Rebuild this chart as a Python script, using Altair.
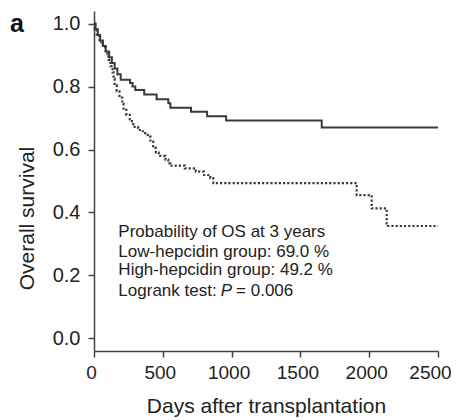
import altair as alt
import pandas as pd

# Low-hepcidin group (solid)
low_days = [0, 12, 28, 45, 65, 85, 110, 130, 150, 170, 194, 262, 280, 300, 365, 455,
            540, 555, 705, 822, 960, 1655, 2500]
low_surv = [1.0, 0.982, 0.964, 0.946, 0.929, 0.911, 0.893, 0.875, 0.857, 0.839, 0.822,
            0.811, 0.800, 0.789, 0.775, 0.760, 0.747, 0.733, 0.720, 0.706, 0.692, 0.670, 0.670]

# High-hepcidin group (dotted)
high_days = [0, 5, 20, 40, 65, 85, 105, 120, 135, 142, 150, 165, 185, 205, 215, 235, 260,
             285, 320, 355, 390, 410, 430, 450, 470, 520, 540, 555, 660, 740, 800, 845,
             867, 1909, 2018, 2127, 2500]
high_surv = [1.0, 0.98, 0.96, 0.94, 0.925, 0.905, 0.885, 0.865, 0.845, 0.825, 0.805, 0.785,
             0.765, 0.745, 0.73, 0.71, 0.69, 0.672, 0.662, 0.652, 0.641, 0.625, 0.605, 0.59,
             0.58, 0.568, 0.556, 0.549, 0.540, 0.530, 0.519, 0.509, 0.493, 0.455, 0.413,
             0.357, 0.357]

x_ticks = [0, 500, 1000, 1500, 2000, 2500]
y_ticks = [0.0, 0.2, 0.4, 0.6, 0.8, 1.0]

note_lines = ["Probability of OS at 3 years", "Low-hepcidin group: 69.0 %",
              "High-hepcidin group: 49.2 %", "Logrank test:"]
note_y = [0.322, 0.260, 0.200, 0.136]
note_x = 177

FONT = "Liberation Sans"
INK = "#222222"
LINE = "#3a3a3a"

low = pd.DataFrame({"days": low_days, "surv": low_surv})
high = pd.DataFrame({"days": high_days, "surv": high_surv})
notes = pd.DataFrame({"days": [note_x] * 4, "surv": note_y, "t": note_lines})
p_df = pd.DataFrame({"days": [note_x], "surv": [note_y[3]], "t": ["P"]})
rest_df = pd.DataFrame({"days": [note_x], "surv": [note_y[3]], "t": ["= 0.006"]})
lab_df = pd.DataFrame({"t": ["a"]})

x = alt.X("days:Q", scale=alt.Scale(domain=[0, 2500], nice=False),
          axis=alt.Axis(values=x_ticks, format="d", labelOverlap=False, labelFlush=False,
                        labelFontSize=19,
                        labelOffset={"expr": "datum.value == 2500 ? -8 : -3"},
                        title="Days after transplantation",
                        labelPadding=6, titleBaseline="alphabetic", titleY=61))
y = alt.Y("surv:Q", scale=alt.Scale(domain=[-0.04, 1.04], nice=False, zero=False),
          axis=alt.Axis(values=y_ticks, format=".1f", labelOverlap=False, labelFlush=False,
                        title="Overall survival",
                        labelPadding=8, titleBaseline="alphabetic", titleX=-61, titleY=207))

solid = alt.Chart(low).mark_line(interpolate="step-after", color=LINE, strokeWidth=2).encode(x=x, y=y)
dotted = alt.Chart(high).mark_line(interpolate="step-after", color=LINE, strokeWidth=2.2,
                                   strokeDash=[2.2, 2]).encode(x=x, y=y)

txt = alt.Chart(notes).mark_text(align="left", baseline="alphabetic", fontSize=17, font=FONT,
                                 color=INK).encode(x="days:Q", y="surv:Q", text="t:N")
ptxt = alt.Chart(p_df).mark_text(align="left", baseline="alphabetic", fontSize=17, font=FONT,
                                 fontStyle="italic", color=INK, dx=102.4).encode(
    x="days:Q", y="surv:Q", text="t:N")
rtxt = alt.Chart(rest_df).mark_text(align="left", baseline="alphabetic", fontSize=17, font=FONT,
                                    color=INK, dx=117.7).encode(x="days:Q", y="surv:Q", text="t:N")
label = alt.Chart(lab_df).mark_text(align="left", baseline="alphabetic", fontSize=25, font=FONT,
                                    fontWeight="bold", color="#111").encode(
    x=alt.value(-84), y=alt.value(21), text="t:N")

chart = alt.layer(solid, dotted, txt, ptxt, rtxt, label).properties(
    width=344, height=340,
    autosize=alt.AutoSizeParams(type="none"),
    padding={"left": 86, "top": 3, "right": 13, "bottom": 66},
).configure_view(stroke=None).configure_axis(
    grid=False, domainColor="#444", domainWidth=1.5, tickColor="#444", tickWidth=1.5,
    tickSize=6, labelFont=FONT, labelFontSize=20, labelColor=INK, titleFont=FONT,
    titleFontSize=21, titleFontWeight="normal", titleColor=INK,
)

chart.save("out.html", embed_options={"renderer": "svg", "actions": False})
